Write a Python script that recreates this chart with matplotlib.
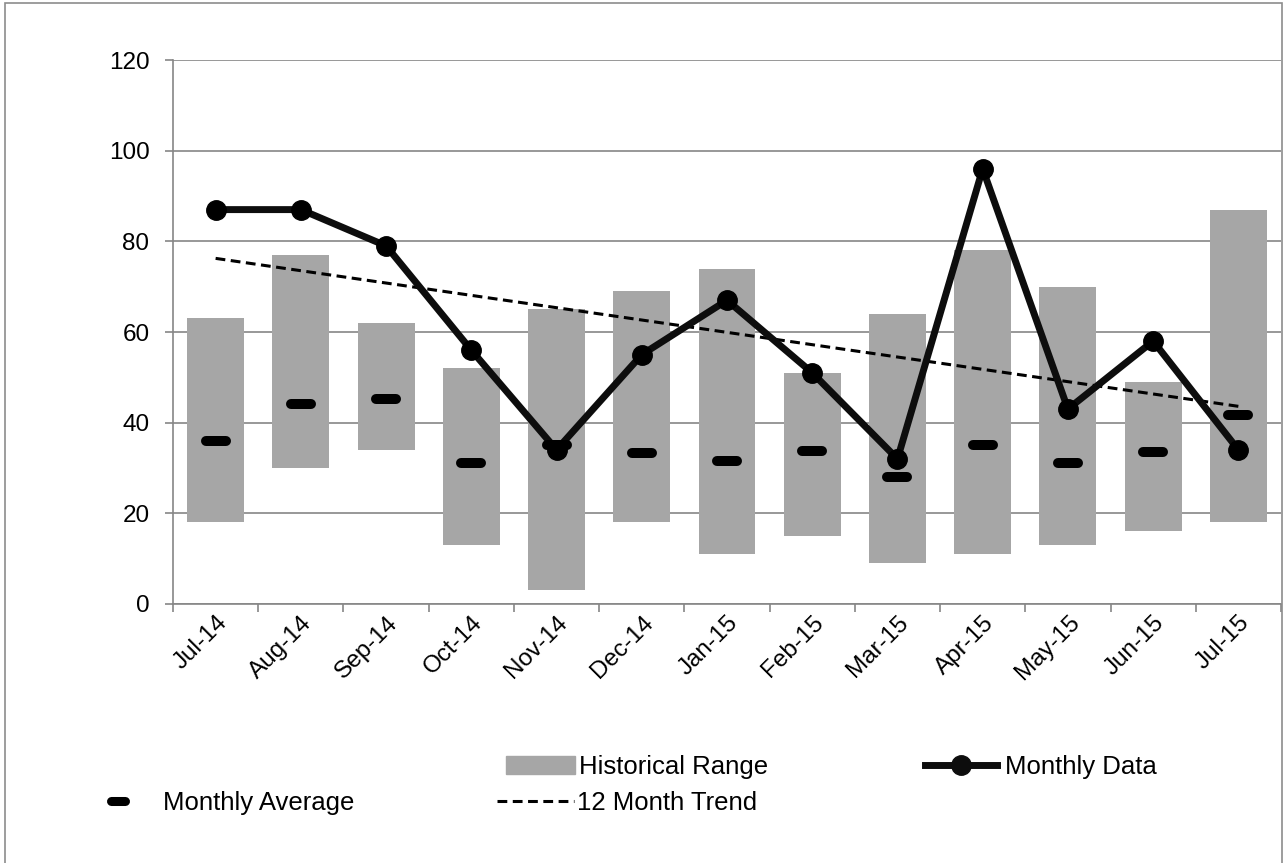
import numpy as np
import matplotlib
matplotlib.use("Agg")
import matplotlib.pyplot as plt
from matplotlib.lines import Line2D
from matplotlib.patches import Patch, Rectangle
from matplotlib.markers import MarkerStyle

plt.rcParams['font.family'] = ['Liberation Sans', 'DejaVu Sans']

months = ["Jul-14", "Aug-14", "Sep-14", "Oct-14", "Nov-14", "Dec-14", "Jan-15",
          "Feb-15", "Mar-15", "Apr-15", "May-15", "Jun-15", "Jul-15"]
range_low = [18, 30, 34, 13, 3, 18, 11, 15, 9, 11, 13, 16, 18]
range_high = [63, 77, 62, 52, 65, 69, 74, 51, 64, 78, 70, 49, 87]
monthly_avg = [36, 44.2, 45.3, 31, 35, 33.4, 31.5, 33.7, 28, 35, 31.2, 33.6, 41.6]
monthly_data = [87, 87, 79, 56, 34, 55, 67, 51, 32, 96, 43, 58, 34]

GRID = '#868686'
BAR = '#a6a6a6'
FS = 17.5
LEG_FS = 18.5

x = np.arange(len(months))

# least-squares trend through the monthly values
slope, icept = np.polyfit(x, monthly_data, 1)
trend = slope * x + icept

fig = plt.figure(figsize=(12.85, 8.63), dpi=100)
ax = fig.add_axes([173 / 1285, 1 - 604 / 863, (1281 - 173) / 1285, (604 - 60) / 863])

heights = np.array(range_high) - np.array(range_low)
ax.bar(x, heights, bottom=range_low, width=0.667, color=BAR, zorder=2)
ax.plot(x, trend, color='black', lw=2.2, dashes=(3.2, 1.8), zorder=3)
ax.plot(x, monthly_data, color='#0d0d0d', lw=5, marker='o', markersize=14,
        markerfacecolor='black', markeredgecolor='black', zorder=4)
dash = MarkerStyle('_', capstyle='round')
ax.plot(x, monthly_avg, ls='none', marker=dash, markersize=15, markeredgewidth=7.2,
        color='black', zorder=5)

ax.set_xlim(-0.5, len(months) - 0.5)
ax.set_ylim(0, 120)
ax.set_yticks(range(0, 121, 20))
ax.yaxis.grid(True, color=GRID, lw=1.2, zorder=0)
ax.set_axisbelow(True)

ax.set_xticks(x)
ax.set_xticklabels(months, rotation=45, ha='right', va='center', rotation_mode='anchor')
ax.set_xticks(np.arange(-0.5, len(months)), minor=True)
ax.tick_params(axis='x', which='major', length=0, pad=14, labelsize=FS)
ax.tick_params(axis='x', which='minor', length=6, width=1.2, color=GRID)
ax.tick_params(axis='y', length=6, width=1.2, color=GRID, labelsize=FS, pad=11)

# nudge the slanted month labels a little to the right
from matplotlib.transforms import ScaledTranslation
for lbl in ax.get_xticklabels():
    lbl.set_transform(lbl.get_transform() + ScaledTranslation(8 / 100, 4 / 100, fig.dpi_scale_trans))

for side in ['top', 'right']:
    ax.spines[side].set_visible(False)
for side in ['left', 'bottom']:
    ax.spines[side].set_color(GRID)
    ax.spines[side].set_linewidth(1.2)

# legend entries, laid out in two rows
entries = [
    (Patch(color=BAR), "Historical Range", 506, 767, 2.7, 0.15),
    (Line2D([], [], color='#0d0d0d', lw=5, marker='o', markersize=14), "Monthly Data", 925, 767, 2.8, 0.3),
    (Line2D([], [], ls='none', marker=dash, markersize=10, markeredgewidth=6.5, color='black'),
     "Monthly Average", 92, 803, 2.0, 0.75),
    (Line2D([], [], color='black', lw=2.2, dashes=(3.2, 1.8)), "12 Month Trend", 497, 803, 3.0, 0.12),
]
for handle, label, px, py, hl, pad in entries:
    fig.legend([handle], [label], loc='center left', bbox_to_anchor=(px / 1285, 1 - py / 863),
               frameon=False, fontsize=LEG_FS, handlelength=hl, handletextpad=pad,
               borderpad=0, borderaxespad=0)

# outer chart border
fig.add_artist(Rectangle((5 / 1285, -0.05), (1282 - 5) / 1285, 1.05 - 3 / 863,
                         transform=fig.transFigure, fill=False, edgecolor='#8c8c8c', lw=1.2))

fig.savefig("out.png", dpi=100)
